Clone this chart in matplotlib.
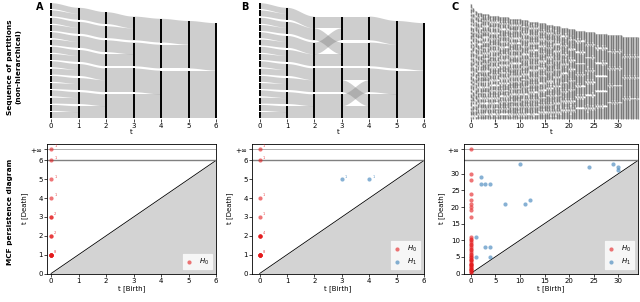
import numpy as np
import matplotlib.pyplot as plt
from matplotlib.collections import PolyCollection

W, H = 640, 302

# ---------------- data ----------------
# partitions of 16 nodes at t = 0..6 (cluster label per node)
ab_times = [0, 1, 2, 3, 4, 5, 6]
part_a = [
    list(range(16)),
    [0, 0, 1, 1, 2, 2, 3, 3, 4, 4, 5, 5, 6, 6, 7, 7],
    [0, 0, 1, 1, 2, 2, 3, 3, 4, 4, 4, 4, 5, 5, 5, 5],
    [0, 0, 0, 0, 1, 1, 1, 1, 2, 2, 2, 2, 3, 3, 3, 3],
    [0, 0, 0, 0, 1, 1, 1, 1, 2, 2, 2, 2, 2, 2, 2, 2],
    [0, 0, 0, 0, 0, 0, 0, 0, 1, 1, 1, 1, 1, 1, 1, 1],
    [0] * 16,
]
part_b = [
    list(range(16)),
    [0, 0, 1, 1, 2, 2, 3, 3, 4, 4, 5, 5, 6, 6, 7, 7],
    [0, 0, 0, 0, 1, 1, 1, 1, 2, 2, 2, 2, 3, 3, 3, 3],
    [0, 0, 1, 1, 0, 0, 1, 1, 2, 2, 2, 2, 3, 3, 3, 3],
    [0, 0, 1, 1, 0, 0, 1, 1, 2, 2, 3, 3, 2, 2, 3, 3],
    [0, 0, 0, 0, 0, 0, 0, 0, 1, 1, 1, 1, 1, 1, 1, 1],
    [0] * 16,
]

# panel C: number of clusters at t = 0, 0.5, ..., 34 (40 nodes)
c_times = np.arange(0, 34.5, 0.5)
c_nclust = [26, 23, 21, 20, 20, 19, 19, 19, 18, 18,
            18, 18, 17, 17, 17, 17, 16, 16, 16, 16,
            16, 15, 15, 15, 14, 14, 14, 14, 13, 13,
            13, 12, 12, 12, 11, 11, 11, 10, 10, 10,
            9, 9, 9, 8, 8, 8, 8, 7, 7, 7,
            7, 6, 6, 6, 6, 6, 5, 5, 5, 5,
            5, 5, 4, 4, 4, 4, 4, 4, 4]
n_c = 40

# persistence diagrams (birth of all H0 classes is 0)
INF = np.inf
a_h0_death = [1, 2, 3, 4, 5, 6, INF]
a_h0_mult = [8, 2, 2, 1, 1, 1, 1]

b_h0_death = [1, 2, 3, 4, 6, INF]
b_h0_mult = [8, 4, 1, 1, 1, 1]
b_h1_birth = [3, 4]
b_h1_death = [5, 5]
b_h1_mult = [1, 1]

c_h0_death = [0.5, 1, 1.5, 2, 2.5, 3, 3.5, 4, 4.5, 5, 5.5, 6, 6.5, 7, 7.5,
              8, 8.5, 9, 9.5, 10, 10.5, 11, 17, 19, 20, 21, 22, 24, 28, 30, INF]
c_h0_mult = [2, 2, 2, 2, 2, 2, 1, 2, 1, 2, 1, 1, 1, 1, 1,
             1, 1, 1, 1, 1, 1, 1, 1, 1, 1, 1, 1, 1, 1, 1, 1]
c_h1_birth = [1, 1, 2, 2, 3, 4, 3, 4, 4, 7, 10, 11, 12, 24, 29, 30, 30]
c_h1_death = [5, 11, 29, 27, 27, 27, 8, 8, 5, 21, 33, 21, 22, 32, 33, 32, 31]

RED = '#e41a1c'
BLUE = '#377eb8'


def c_partitions():
    # memberships are not readable in the picture: nodes are shuffled locally
    parts = []
    idx = np.arange(n_c)
    for k, n in enumerate(c_nclust):
        amp = 4.0 if c_times[k] < 21 else 1.8
        jitter = (((idx * 37 + k * 53 + idx * k * 11) % 17) - 8) / 8 * amp
        rank = np.argsort(np.argsort(idx + jitter, kind='stable'), kind='stable')
        parts.append(rank * n // n_c)
    return parts


def draw_sankey(ax, times, parts, gap, gap_cap, bar_lw, bar_color='k', bar_alpha=1.0):
    parts = [np.asarray(p) for p in parts]
    n_el = len(parts[0])
    layout = []
    for p in parts:
        labels = sorted(set(p.tolist()))
        g = gap if len(labels) < 2 else min(gap, gap_cap / (len(labels) - 1))
        y = n_el + (len(labels) - 1) * g
        pos = {}
        for c in labels:
            size = int(np.sum(p == c))
            pos[c] = (y - size, y)
            y -= size + g
        layout.append((labels, pos))

    s = np.linspace(0, 1, 40)
    smooth = (1 - np.cos(np.pi * s)) / 2
    polys = []
    for k in range(len(parts) - 1):
        t0, t1 = times[k], times[k + 1]
        x = t0 + (t1 - t0) * s
        la, pa = layout[k]
        lb, pb = layout[k + 1]
        w = {}
        for c in la:
            for d in lb:
                w[c, d] = int(np.sum((parts[k] == c) & (parts[k + 1] == d)))
        src, dst = {}, {}
        for c in la:
            off = pa[c][1]
            for d in lb:
                if w[c, d]:
                    src[c, d] = off
                    off -= w[c, d]
        for d in lb:
            off = pb[d][1]
            for c in la:
                if w[c, d]:
                    dst[c, d] = off
                    off -= w[c, d]
        for key, top0 in src.items():
            top = top0 + (dst[key] - top0) * smooth
            bot = top - w[key]
            polys.append(np.column_stack([np.r_[x, x[::-1]], np.r_[top, bot[::-1]]]))
    ax.add_collection(PolyCollection(polys, facecolors='0.45', alpha=0.35,
                                     edgecolors='none', linewidths=0))
    xs, lo, hi = [], [], []
    for t, (labels, pos) in zip(times, layout):
        for c in labels:
            xs.append(t)
            lo.append(pos[c][0])
            hi.append(pos[c][1])
    bars = ax.vlines(xs, lo, hi, colors=bar_color, lw=bar_lw, alpha=bar_alpha)
    bars.set_clip_on(False)


def style_sankey(ax, xlim, ylim, xticks):
    ax.set_xlim(*xlim)
    ax.set_ylim(*ylim)
    for sp in ax.spines.values():
        sp.set_visible(False)
    ax.set_yticks([])
    ax.set_xticks(xticks)
    ax.tick_params(axis='x', length=2, width=0.5, labelsize=5, pad=1)
    ax.set_xlabel('t', fontsize=5, labelpad=0)


def draw_pd(ax, tmax, xleft, xticks, yticks, h0_death, h0_mult,
            h1_birth=None, h1_death=None, h1_mult=None, annotate=True):
    inf = tmax * 1.1
    ax.fill_between([0, tmax], [0, tmax], 0, color='lightgrey', lw=0)
    ax.plot([0, tmax], [0, tmax], color='k', lw=0.6)
    ax.axhline(tmax, color='0.5', lw=1.0)
    ax.axhline(inf, color='0.6', lw=0.7, alpha=0.8)
    first = True
    for d, m in zip(h0_death, h0_mult):
        yd = inf if np.isinf(d) else d
        for _ in range(m):
            ax.scatter(0, yd, s=9, color=RED, alpha=0.6, lw=0,
                       label='$H_0$' if first else None, zorder=3)
            first = False
        if annotate:
            ax.annotate(str(m), (0, yd), xytext=(2.2, 1.2), textcoords='offset points',
                        fontsize=2.6, color=RED, alpha=0.8)
    if h1_birth is not None:
        mults = h1_mult if h1_mult is not None else [1] * len(h1_birth)
        first = True
        for b, d, m in zip(h1_birth, h1_death, mults):
            for _ in range(m):
                ax.scatter(b, d, s=9, color=BLUE, alpha=0.6, lw=0,
                           label='$H_1$' if first else None, zorder=3)
                first = False
            if annotate:
                ax.annotate(str(m), (b, d), xytext=(2.2, 1.2), textcoords='offset points',
                            fontsize=2.6, color=BLUE, alpha=0.8)
    ax.set_xlim(xleft, tmax)
    ax.set_ylim(0, tmax * 1.15)
    ax.set_xticks(xticks)
    ax.set_yticks(list(yticks) + [inf])
    ax.set_yticklabels([str(v) for v in yticks] + [r'$+\infty$'])
    ax.tick_params(length=2, width=0.5, labelsize=5, pad=1)
    for sp in ax.spines.values():
        sp.set_linewidth(0.6)
    ax.set_xlabel('t [Birth]', fontsize=5, labelpad=1)
    ax.set_ylabel('t [Death]', fontsize=5, labelpad=1)
    leg = ax.legend(loc='lower right', fontsize=5, handletextpad=0.8, borderpad=0.5,
                    labelspacing=0.4, handlelength=1.2, markerscale=1.0)
    leg.get_frame().set_linewidth(0.5)


def box(l, t, r, b):
    return [l / W, 1 - b / H, (r - l) / W, (b - t) / H]


fig = plt.figure(figsize=(W / 100, H / 100), dpi=100)

# top row: sequences of partitions
ax = fig.add_axes(box(47, 3, 216, 119))
draw_sankey(ax, ab_times, part_a, gap=0.37, gap_cap=3.37, bar_lw=1.4)
style_sankey(ax, (-0.15, 6), (-0.15, 19.4), range(7))

ax = fig.add_axes(box(252, 3, 424, 119))
draw_sankey(ax, ab_times, part_b, gap=0.37, gap_cap=3.37, bar_lw=1.4)
style_sankey(ax, (-0.28, 6), (-0.15, 19.4), range(7))

ax = fig.add_axes(box(464, 3, 638, 119))
draw_sankey(ax, c_times, c_partitions(), gap=0.77, gap_cap=30, bar_lw=1.0,
            bar_color='0.3', bar_alpha=0.65)
style_sankey(ax, (-1.36, 34), (-0.2, 59.6), range(0, 31, 5))

# bottom row: persistence diagrams
ax = fig.add_axes(box(47, 143.5, 216, 273.5))
draw_pd(ax, 6, -0.15, range(7), range(7), a_h0_death, a_h0_mult)

ax = fig.add_axes(box(252, 143.5, 424, 273.5))
draw_pd(ax, 6, -0.28, range(7), range(7), b_h0_death, b_h0_mult,
        b_h1_birth, b_h1_death, b_h1_mult)

ax = fig.add_axes(box(464, 143.5, 638, 273.5))
draw_pd(ax, 34, -1.36, range(0, 31, 5), range(0, 31, 5), c_h0_death, c_h0_mult,
        c_h1_birth, c_h1_death, annotate=False)

# panel letters and row labels
for x, letter in [(40, 'A'), (245, 'B'), (455, 'C')]:
    fig.text(x / W, 1 - 7 / H, letter, fontsize=7, fontweight='bold', ha='center', va='center')
fig.text(10 / W, 1 - 67 / H, 'Sequence of partitions', rotation=90, fontsize=5.3,
         fontweight='bold', ha='center', va='center')
fig.text(18 / W, 1 - 67 / H, '(non-hierarchical)', rotation=90, fontsize=5.3,
         fontweight='bold', ha='center', va='center')
fig.text(10 / W, 1 - 212 / H, 'MCF persistence diagram', rotation=90, fontsize=5.3,
         fontweight='bold', ha='center', va='center')

fig.savefig('out.png', dpi=100)
